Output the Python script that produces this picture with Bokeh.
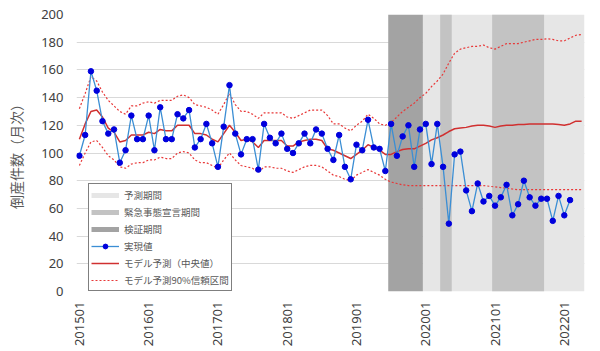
import math
from bokeh.plotting import figure
from bokeh.models import Range1d, FixedTicker, Legend, LegendItem, ColumnDataSource
from bokeh.embed import file_html
from bokeh.resources import INLINE

# ---- data ----
months = [f"{y}{m:02d}" for y in range(2015, 2023) for m in range(1, 13)][:88]  # 201501..202204
tick_labels = ["201501", "201601", "201701", "201801", "201901", "202001", "202101", "202201"]

actual = [98, 113, 159, 145, 123, 114, 117, 93, 102, 127, 110, 110,
          127, 102, 133, 110, 110, 128, 125, 131, 104, 110, 121, 107,
          90, 119, 149, 114, 99, 110, 110, 88, 121, 111, 107, 114,
          103, 100, 107, 114, 107, 117, 114, 103, 95, 113, 90, 81,
          106, 102, 124, 104, 103, 87, 121, 98, 112, 120, 90, 117,
          121, 92, 121, 90, 49, 99, 101, 73, 58, 78, 65, 69,
          62, 68, 77, 55, 63, 80, 68, 62, 67, 67, 51, 69,
          55, 66]

median = [110, 121, 130, 131, 126, 118, 115, 108, 109, 113, 113, 113,
          115, 114, 117, 116, 116, 120, 120, 120, 114, 114, 113, 110,
          108, 114, 120, 115, 109, 110, 108, 104, 109, 109, 109, 109,
          105, 105, 108, 109, 110, 110, 109, 103, 102, 100, 98, 96,
          99, 102, 106, 104, 102, 99, 99, 101, 102.5, 103, 103, 105,
          107, 109.5, 111, 113, 115.5, 117.5, 118, 118.5, 119.5, 120, 120, 119.5,
          118.5, 119.5, 120, 120, 120.5, 120.5, 121, 121, 121, 121, 121, 120.5,
          120, 121, 123, 123]

upper = [132, 143, 155, 152, 144, 138, 134, 130, 128, 134, 134, 136,
         137, 136, 138, 138, 138, 141, 142, 140, 135, 134, 133, 131,
         128, 135, 143, 135, 130, 130, 128, 125, 129, 129, 129, 129,
         126, 125, 127, 129, 131, 131, 131, 127, 121, 121, 118, 116,
         120, 123, 128, 125, 121, 120, 122, 126, 130, 133, 136, 140,
         143, 148, 152, 157, 165, 172, 175, 176, 177, 177, 178, 176,
         175, 177, 179, 179, 179, 180, 181, 182, 182, 182.5, 182, 181,
         181, 183, 185, 185.5]

lower = [91, 100, 108, 109, 104, 98, 95, 90, 89, 92, 93, 93,
         95, 95, 97, 96, 96, 100, 101, 100, 95, 93, 93, 91,
         89, 95, 100, 95, 91, 90, 89, 86, 90, 90, 89, 89,
         87, 86, 88, 90, 91, 91, 90, 87, 84, 83, 81, 80,
         84, 86, 88, 86, 84, 81, 79, 78, 77, 76.5, 76.5, 76.5,
         76.5, 76.5, 76.5, 76.5, 76.5, 76.5, 76.5, 76.5, 76.5, 76.5, 76.5, 76,
         75.5, 75, 74.5, 74, 73.5, 73.5, 73.5, 73.5, 73.5, 73.5, 73.5, 73.5,
         73.5, 73.5, 73.5, 73.5]

forecast_period = [("202001", "202204")]
emergency_periods = [("202004", "202005"), ("202101", "202109")]
validation_period = [("201907", "201912")]

# ---- figure ----
YMAX = 200
p = figure(width=600, height=351, output_backend="svg", toolbar_location=None,
           x_range=Range1d(-0.5, len(months) - 0.5), y_range=Range1d(0, YMAX),
           min_border_left=76, min_border_right=16, min_border_top=14, min_border_bottom=60)
p.outline_line_color = None
p.background_fill_color = "white"
p.xgrid.visible = False
p.ygrid.grid_line_color = "#D9D9D9"
p.ygrid.grid_line_width = 1

def period_source(periods):
    l, r = [], []
    for a, b in periods:
        l.append(months.index(a) - 0.5)
        r.append(months.index(b) + 0.5)
    return ColumnDataSource(dict(left=l, right=r, bottom=[0] * len(l), top=[YMAX] * len(l)))

C_FC, C_EM, C_VA = "#E6E6E6", "#C3C3C3", "#A3A3A3"
p.quad(left="left", right="right", bottom="bottom", top="top", source=period_source(forecast_period),
       fill_color=C_FC, line_color=None)
p.quad(left="left", right="right", bottom="bottom", top="top", source=period_source(emergency_periods),
       fill_color=C_EM, line_color=None)
p.quad(left="left", right="right", bottom="bottom", top="top", source=period_source(validation_period),
       fill_color=C_VA, line_color=None)

xs_m = list(range(len(months)))
xs_a = list(range(len(actual)))
RED = "#D03030"
BAND = "#E83838"
BLUE = "#3B8ED4"
DOT = "#0000DD"
r_up = p.line(xs_m, upper, line_color=BAND, line_width=1.2, line_dash="2 2")
r_lo = p.line(xs_m, lower, line_color=BAND, line_width=1.2, line_dash="2 2")
r_med = p.line(xs_m, median, line_color=RED, line_width=1.5)
r_al = p.line(xs_a, actual, line_color=BLUE, line_width=1.3)
r_as = p.scatter(xs_a, actual, size=5.5, fill_color=DOT, line_color=DOT)

nan = float("nan")
l_fc = p.line([nan], [nan], line_color=C_FC, line_width=5)
l_em = p.line([nan], [nan], line_color=C_EM, line_width=5)
l_va = p.line([nan], [nan], line_color=C_VA, line_width=5)
l_as = p.scatter([nan], [nan], size=4, fill_color=DOT, line_color=DOT)

# axes
p.yaxis.ticker = FixedTicker(ticks=list(range(0, YMAX + 1, 20)))
p.xaxis.ticker = FixedTicker(ticks=[months.index(t) for t in tick_labels])
p.xaxis.major_label_overrides = {months.index(t): t for t in tick_labels}
p.xaxis.major_label_orientation = math.pi / 2
for ax in (p.xaxis, p.yaxis):
    ax.axis_line_color = None
    ax.major_tick_line_color = None
    ax.minor_tick_line_color = None
    ax.major_tick_out = 0
    ax.major_tick_in = 0
    ax.minor_tick_out = 0
    ax.minor_tick_in = 0
    ax.major_label_text_font = "Noto Sans"
    ax.major_label_text_font_size = "13px"
    ax.major_label_text_color = "#404040"
p.xaxis.major_label_standoff = 10
p.yaxis.major_label_standoff = 13
p.yaxis.axis_label = "倒産件数（月次）"
p.yaxis.axis_label_text_font = "Noto Sans CJK JP"
p.yaxis.axis_label_text_font_size = "14px"
p.yaxis.axis_label_text_font_style = "normal"
p.yaxis.axis_label_text_color = "#595959"
p.yaxis.axis_label_standoff = 12

legend = Legend(items=[
    LegendItem(label="予測期間", renderers=[l_fc]),
    LegendItem(label="緊急事態宣言期間", renderers=[l_em]),
    LegendItem(label="検証期間", renderers=[l_va]),
    LegendItem(label="実現値", renderers=[r_al, l_as]),
    LegendItem(label="モデル予測（中央値）", renderers=[r_med]),
    LegendItem(label="モデル予測90%信頼区間", renderers=[r_up]),
], location=(12, 0))
legend.border_line_color = "black"
legend.border_line_width = 1
legend.background_fill_color = "white"
legend.background_fill_alpha = 1
legend.padding = 2
legend.spacing = 0
legend.margin = 0
legend.glyph_width = 28
legend.glyph_height = 12
legend.label_height = 17
legend.label_standoff = 5
legend.label_text_font = "Noto Sans CJK JP"
legend.label_text_font_size = "9.5px"
legend.label_text_color = "#595959"
p.add_layout(legend)

open("out.html", "w").write(file_html(p, INLINE))
